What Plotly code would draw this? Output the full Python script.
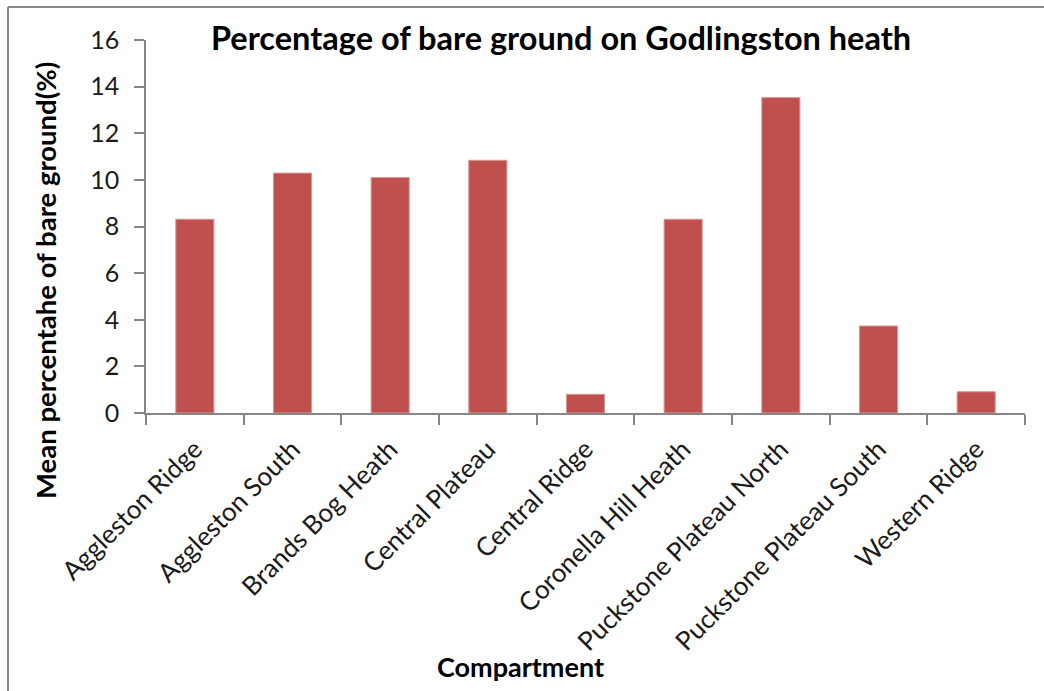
import plotly.graph_objects as go

categories = ["Aggleston Ridge", "Aggleston South", "Brands Bog Heath", "Central Plateau",
              "Central Ridge", "Coronella Hill Heath", "Puckstone Plateau North",
              "Puckstone Plateau South", "Western Ridge"]
values = [8.31, 10.29, 10.1, 10.84, 0.8, 8.31, 13.53, 3.73, 0.91]
y_ticks = [0, 2, 4, 6, 8, 10, 12, 14, 16]

W, H = 1044, 691
L, R, T, B = 146, 19, 40, 278
PW, PH = W - L - R, H - T - B


def px(xp):
    return (xp - L) / PW


def py(yp):
    return (H - B - yp) / PH


fig = go.Figure(go.Bar(
    x=categories, y=values,
    marker=dict(color="#C0504D", line=dict(color="#D99694", width=1)),
))

font = "Lato, 'Open Sans', Arial, sans-serif"
fig.update_layout(
    width=W, height=H,
    margin=dict(l=L, r=R, t=T, b=B),
    paper_bgcolor="white", plot_bgcolor="white",
    bargap=0.61,
    showlegend=False,
    font=dict(family=font, color="#1a1a1a"),
    xaxis=dict(
        showline=True, linecolor="#868686", linewidth=1.5,
        ticks="outside", ticklen=10, tickcolor="#868686", tickwidth=1.5,
        tickson="boundaries", tickangle=-45, ticklabelstandoff=9,
        tickfont=dict(size=26, color="#1a1a1a"),
        showgrid=False, zeroline=False,
    ),
    yaxis=dict(
        range=[0, 16], tickvals=y_ticks,
        showline=True, linecolor="#868686", linewidth=1.5,
        ticks="outside", ticklen=10, tickcolor="#868686", tickwidth=1.5,
        ticklabelstandoff=10,
        tickfont=dict(size=25, color="#1a1a1a"),
        showgrid=False, zeroline=False,
    ),
    annotations=[
        dict(text="<b>Percentage of bare ground on Godlingston heath</b>",
             xref="paper", yref="paper", x=px(561), y=py(37),
             xanchor="center", yanchor="middle", showarrow=False,
             font=dict(size=32.5, color="black", family=font)),
        dict(text="<b>Mean percentahe of bare ground(%)</b>",
             xref="paper", yref="paper", x=px(45), y=py(281),
             xanchor="center", yanchor="middle", showarrow=False, textangle=-90,
             font=dict(size=27.5, color="black", family=font)),
        dict(text="<b>Compartment</b>",
             xref="paper", yref="paper", x=px(520), y=py(666),
             xanchor="center", yanchor="middle", showarrow=False,
             font=dict(size=27, color="black", family=font)),
    ],
    shapes=[
        dict(type="line", xref="paper", yref="paper",
             x0=px(8), x1=px(W + 5), y0=py(7), y1=py(7),
             line=dict(color="#888888", width=2)),
        dict(type="line", xref="paper", yref="paper",
             x0=px(8), x1=px(8), y0=py(7), y1=py(H + 5),
             line=dict(color="#888888", width=2)),
    ],
)

fig.write_html("out.html", config={"displayModeBar": False},
               post_script="document.body.style.margin='0';document.body.style.overflow='hidden';")
